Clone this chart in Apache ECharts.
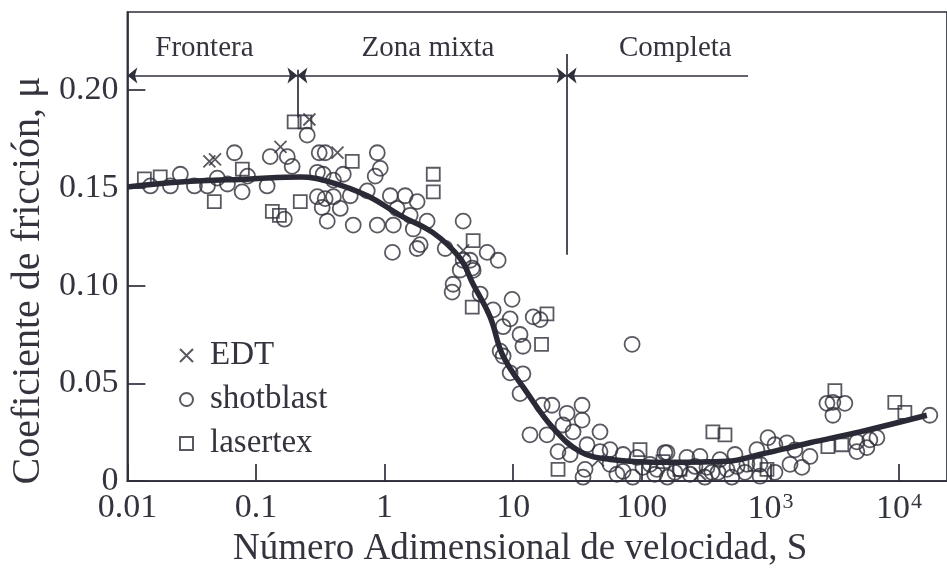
<!DOCTYPE html>
<html>
<head>
<meta charset="utf-8">
<script src="https://cdn.jsdelivr.net/npm/echarts@6/dist/echarts.min.js"></script>
<style>
  html, body { margin: 0; padding: 0; background: #fff; }
  #chart { width: 947px; height: 573px; }
</style>
</head>
<body>
<div id="chart"></div>
<script>
// datos (S adimensional, coeficiente mu)
const edtS  = [0.0434, 0.048, 0.155, 0.26, 0.43, 4.08, 283, 45.7]
const edtMu = [0.1636, 0.1646, 0.171, 0.185, 0.168, 0.118, 0.0035, 0.0106]

const shotS = [0.0151, 0.0216, 0.0258, 0.0332, 0.0419, 0.050, 0.060, 0.068, 0.078, 0.086,
  0.122, 0.129, 0.175, 0.191, 0.25, 0.31, 0.30, 0.30, 0.166, 0.327,
  0.345, 0.877, 0.925, 0.845, 0.333, 0.40, 0.477, 0.733, 0.40, 0.541,
  0.345, 0.358, 0.452, 0.570, 0.877, 1.107, 1.445, 1.79, 1.25, 1.58,
  1.17, 2.14, 1.67, 1.89, 1.15, 1.79, 4.08, 2.96, 4.08, 4.80,
  3.41, 6.27, 7.64, 4.62, 3.87, 4.88, 3.35, 9.8, 6.98, 9.46,
  14.3, 16.2, 8.35, 11.3, 11.9, 7.91, 5.53, 8.35, 9.46, 11.9,
  11.3, 16.8, 20.0, 26.2, 34.3, 34.3, 13.5, 18.3, 24.4, 29.2,
  47.3, 22.3, 27.7, 37.5, 56.6, 71.5, 91.8, 102, 36.2, 34.9,
  71.5, 131, 151, 47.3, 56.6, 3060, 3790, 2750, 3060, 17340,
  157, 224, 283, 530, 785, 957, 1084, 1343, 829, 656,
  1758, 2029, 4700, 4700, 5930, 6730, 5620, 198, 321, 459,
  550, 84, 116, 181, 259, 351, 405, 634, 1420, 1550,
  64, 85, 126, 158, 237, 309, 391, 501, 830, 1084]
const shotMu = [0.151, 0.151, 0.157, 0.151, 0.151, 0.155, 0.152, 0.168, 0.148, 0.156,
  0.151, 0.166, 0.166, 0.161, 0.177, 0.168, 0.158, 0.1455, 0.134, 0.140,
  0.168, 0.168, 0.160, 0.156, 0.157, 0.154, 0.157, 0.1485, 0.1455, 0.146,
  0.1445, 0.133, 0.1395, 0.131, 0.131, 0.146, 0.146, 0.143, 0.1395, 0.136,
  0.131, 0.133, 0.129, 0.121, 0.117, 0.119, 0.133, 0.119, 0.113, 0.109,
  0.1007, 0.117, 0.113, 0.113, 0.108, 0.1078, 0.0967, 0.093, 0.0876, 0.083,
  0.084, 0.0826, 0.079, 0.075, 0.069, 0.0665, 0.0957, 0.064, 0.0554, 0.0549,
  0.0448, 0.0388, 0.0388, 0.0347, 0.0388, 0.0312, 0.0237, 0.0237, 0.0287, 0.0252,
  0.0252, 0.0151, 0.0136, 0.0186, 0.0161, 0.0136, 0.0121, 0.0070, 0.0060, 0.002,
  0.005, 0.006, 0.0146, 0.0151, 0.0086, 0.0403, 0.0398, 0.0398, 0.0337, 0.0337,
  0.0146, 0.0121, 0.0126, 0.0136, 0.0161, 0.0222, 0.0186, 0.0196, 0.0086, 0.0086,
  0.0070, 0.0126, 0.0151, 0.0201, 0.0211, 0.0222, 0.0171, 0.006, 0.007, 0.006,
  0.0075, 0.070, 0.0086, 0.0045, 0.0075, 0.0045, 0.011, 0.0045, 0.0086, 0.016,
  0.0035, 0.002, 0.0035, 0.002, 0.0035, 0.002, 0.0045, 0.002, 0.0025, 0.0045]

const laserS  = [0.01355, 0.018, 0.0474, 0.198, 0.134, 0.152, 0.221, 0.0783, 0.24, 0.56,
  2.39, 2.39, 4.88, 4.80, 18.3, 16.6, 22.3, 96.8, 146, 357,
  443, 3170, 9270, 11100, 2800, 3590, 940, 198, 759]
const laserMu = [0.1546, 0.1556, 0.143, 0.1838, 0.138, 0.136, 0.143, 0.1596, 0.1838, 0.1636,
  0.157, 0.148, 0.123, 0.089, 0.0856, 0.070, 0.006, 0.0161, 0.010, 0.0252,
  0.0237, 0.0463, 0.0403, 0.0352, 0.0176, 0.0186, 0.006, 0.006, 0.0086]

// curva ajustada
const fitS  = [0.01, 0.0258, 0.0904, 0.221, 0.378, 0.733, 1.32, 2.39, 3.86, 4.88,
  6.61, 8.34, 12.8, 20.4, 33.1, 56.6, 166, 459, 828, 2027, 4960, 16440]
const fitMu = [0.1505, 0.153, 0.1546, 0.1556, 0.153, 0.146, 0.136, 0.127, 0.114, 0.1007,
  0.084, 0.064, 0.0453, 0.0272, 0.0151, 0.0111, 0.0096, 0.0101, 0.0136, 0.0196, 0.0252, 0.0337]

// zonas de lubricacion
const zoneNames = ['Frontera', 'Zona mixta', 'Completa']
const zoneEdges = [0.01, 0.21, 26, 670]
const arrowMu = 0.2075

const pairs = (xs, ys) => xs.map((x, i) => [x, ys[i]])

const FONT = '"Liberation Serif", "DejaVu Serif", serif'
const INK = '#2f2f3b'
const TEXT = '#34343e'

const markStyle = { color: INK, width: 1.7, type: 'solid' }
const labelShift = [-8, -4, 18]
const zoneLines = [
  [{ coord: [zoneEdges[0], arrowMu], symbol: 'arrow' },
   { coord: [zoneEdges[1], arrowMu], symbol: 'arrow' }],
  [{ coord: [zoneEdges[1], arrowMu], symbol: 'arrow' },
   { coord: [zoneEdges[2], arrowMu], symbol: 'arrow' }],
  [{ coord: [zoneEdges[2], arrowMu], symbol: 'arrow' },
   { coord: [zoneEdges[3], arrowMu], symbol: 'none' }]
].map((l, i) => {
  l[0].label = { show: true, formatter: zoneNames[i], offset: [labelShift[i], 0] }
  return l
})
const dividers = [
  [{ coord: [zoneEdges[1], 0.2105] }, { coord: [zoneEdges[1], 0.186] }],
  [{ coord: [zoneEdges[2], 0.2185] }, { coord: [zoneEdges[2], 0.1158] }]
]

const hollow = { color: 'rgba(0,0,0,0)', borderColor: INK, borderWidth: 1.8 }

let myChart = echarts.init(document.getElementById('chart'))

myChart.setOption({
  animation: false,
  backgroundColor: '#fff',
  textStyle: { fontFamily: FONT, color: TEXT },
  grid: {
    left: 127, right: -3, top: 12, bottom: 86,
    show: true, borderColor: INK, borderWidth: 1.7
  },
  legend: {
    orient: 'vertical', left: 174, top: 334,
    itemWidth: 13, itemHeight: 13, itemGap: 11,
    data: ['EDT', 'shotblast', 'lasertex'],
    textStyle: { fontFamily: FONT, fontSize: 33, color: TEXT, padding: [0, 0, 0, 12] }
  },
  xAxis: {
    type: 'log', logBase: 10, min: 0.01, max: 23600,
    name: 'Número Adimensional de velocidad, S',
    nameLocation: 'middle', nameGap: 40,
    nameTextStyle: { fontFamily: FONT, fontSize: 37, color: TEXT, padding: [0, 34, 0, 0] },
    axisLine: { lineStyle: { color: INK, width: 1.7 } },
    axisTick: { inside: true, length: 17, lineStyle: { color: INK, width: 1.7 } },
    splitLine: { show: false },
    axisLabel: {
      showMaxLabel: false, margin: 10, fontFamily: FONT, fontSize: 34, color: TEXT,
      formatter: function (v) {
        const p = Math.round(Math.log10(v))
        if (p >= 3) return '{b|10}{s|' + p + '}'
        return '{b|' + (p < 0 ? v.toFixed(-p) : String(Math.round(v))) + '}'
      },
      rich: {
        b: { fontFamily: FONT, fontSize: 34, color: TEXT },
        s: { fontFamily: FONT, fontSize: 22, color: TEXT, verticalAlign: 'top', padding: [0, 0, 14, 1] }
      }
    }
  },
  yAxis: {
    type: 'value', min: 0, max: 0.24, interval: 0.05,
    name: 'Coeficiente de fricción, μ',
    nameLocation: 'middle', nameGap: 79,
    nameTextStyle: { fontFamily: FONT, fontSize: 40, color: TEXT, padding: [0, 68, 0, 0] },
    axisLine: { lineStyle: { color: INK, width: 1.7 } },
    axisTick: { inside: true, length: 18, lineStyle: { color: INK, width: 1.7 } },
    splitLine: { show: false },
    axisLabel: {
      showMaxLabel: false, margin: 9, fontFamily: FONT, fontSize: 34, color: TEXT,
      formatter: v => v === 0 ? '0' : v.toFixed(2)
    }
  },
  series: [
    {
      name: 'EDT', type: 'scatter', symbol: 'path://M0,0L10,10M10,0L0,10', symbolSize: 12,
      itemStyle: hollow, data: pairs(edtS, edtMu)
    },
    {
      name: 'shotblast', type: 'scatter', symbol: 'circle', symbolSize: 15,
      itemStyle: hollow, data: pairs(shotS, shotMu)
    },
    {
      name: 'lasertex', type: 'scatter', symbol: 'rect', symbolSize: 13,
      itemStyle: hollow, data: pairs(laserS, laserMu)
    },
    {
      name: 'ajuste', type: 'line', smooth: 0.4, symbol: 'none', z: 5,
      lineStyle: { color: '#2a2a36', width: 5.5 },
      data: pairs(fitS, fitMu),
      markLine: {
        silent: true, symbol: ['none', 'none'], symbolSize: [12, 10],
        lineStyle: markStyle,
        label: { show: false, position: 'middle', distance: 13, fontFamily: FONT, fontSize: 29, color: TEXT },
        emphasis: { disabled: true },
        data: zoneLines.concat(dividers)
      }
    }
  ]
})

window.onresize = function () {
  myChart.resize()
}
</script>
</body>
</html>
